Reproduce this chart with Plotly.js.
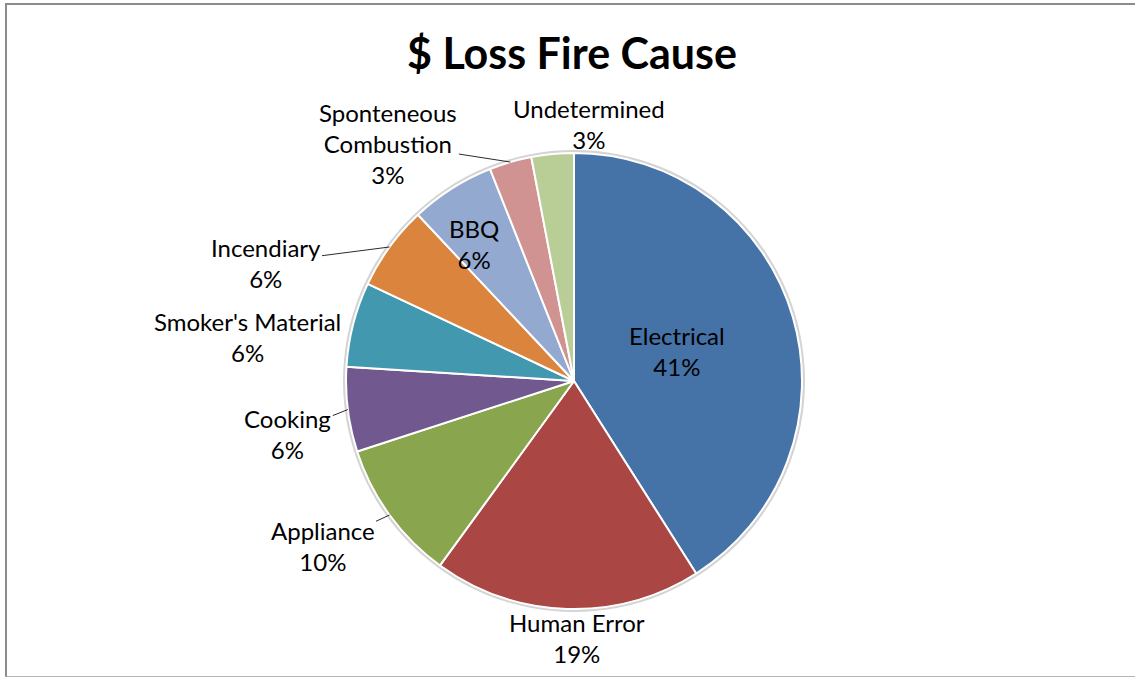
<!DOCTYPE html>
<html><head><meta charset="utf-8">
<script src="https://cdn.plot.ly/plotly-3.0.1.min.js"></script>
<style>
html,body{margin:0;padding:0;background:#fff;overflow:hidden;width:1135px;height:677px;}
#chart{position:absolute;left:0;top:0;width:1135px;height:677px;}
#frame{position:absolute;left:5px;top:3px;width:1130px;height:674px;border-left:2px solid #8c8c8c;border-top:2px solid #8c8c8c;border-bottom:1px solid #b4b4b4;box-sizing:border-box;pointer-events:none;}
</style>
</head><body>
<div id="chart"></div><div id="frame"></div>
<script>
// ---- data ----
const categories = ["Electrical","Human Error","Appliance","Cooking","Smoker's Material","Incendiary","BBQ","Sponteneous<br>Combustion","Undetermined"];
const values = [41,19,10,6,6,6,6,3,3];

// ---- styles ----
const sliceColors = ["#4572A7","#AA4643","#89A54E","#71588F","#4198AF","#DB843D","#93A9CF","#D19392","#B9CD96"];
// label placement: inside labels use a radius fraction + shift; outside labels use an offset (px) from the slice edge
const labelStyle = [
  {inside: true,  rf: 0.47, dx: 0,   dy: 0},
  {inside: false, dx: 10,   dy: 29,  line: false},
  {inside: false, dx: -67,  dy: 31,  line: true},
  {inside: false, dx: -60,  dy: 24,  line: true},
  {inside: false, dx: -106, dy: 13,  line: false},
  {inside: false, dx: -124, dy: 16,  line: true},
  {inside: true,  rf: 0.74, dx: -10, dy: 5},
  {inside: false, dx: -122, dy: -19, line: true},
  {inside: false, dx: 36,   dy: -30, line: false}
];

const W = 1135, H = 677;
const cx = 574, cy = 381, R = 228;
const FONT = "Lato, 'Open Sans', sans-serif";

const total = values.reduce((a, b) => a + b, 0);
const annotations = [];
let cum = 0;
values.forEach((v, i) => {
  const mid = (cum + v / 2) / total * 2 * Math.PI; // clockwise from 12 o'clock
  cum += v;
  const st = labelStyle[i];
  const pct = Math.round(v / total * 100) + "%";
  const text = categories[i] + "<br>" + pct;
  const r = st.inside ? st.rf * R : R;
  const px = cx + r * Math.sin(mid);
  const py = cy - r * Math.cos(mid);
  const a = {
    xref: "paper", yref: "paper",
    x: px / W, y: 1 - py / H,
    text: text,
    font: {family: FONT, size: 24, color: "#000"},
    align: "center"
  };
  if (st.inside) {
    a.showarrow = false;
    a.xshift = st.dx;
    a.yshift = -st.dy;
  } else {
    a.showarrow = true;
    a.arrowhead = 0;
    a.arrowwidth = 1;
    a.arrowcolor = st.line ? "#2b2b2b" : "rgba(0,0,0,0)";
    a.ax = st.dx;
    a.ay = st.dy;
    a.axref = "pixel"; a.ayref = "pixel";
    a.standoff = 0;
  }
  annotations.push(a);
});

const trace = {
  type: "pie",
  labels: categories,
  values: values,
  sort: false,
  direction: "clockwise",
  rotation: 0,
  marker: {colors: sliceColors, line: {color: "#ffffff", width: 2}},
  textposition: "none",
  textinfo: "none",
  hoverinfo: "label+percent",
  domain: {x: [(cx - R) / W, (cx + R) / W], y: [(H - cy - R) / H, (H - cy + R) / H]},
  showlegend: false
};

const layout = {
  width: W, height: H,
  margin: {l: 0, r: 0, t: 0, b: 0},
  paper_bgcolor: "#fff",
  title: {
    text: "$ Loss Fire Cause",
    font: {family: FONT, size: 43, color: "#000", weight: "bold"},
    xref: "container", yref: "container",
    x: 572 / W, xanchor: "center",
    y: 1 - 54 / H, yanchor: "middle"
  },
  shapes: [{
    type: "circle", xref: "paper", yref: "paper", layer: "below",
    x0: (cx - R - 3) / W, x1: (cx + R + 3) / W,
    y0: (H - cy - R - 3) / H, y1: (H - cy + R + 3) / H,
    fillcolor: "#d4d4d4", line: {width: 0}
  }],
  annotations: annotations,
  showlegend: false
};

Plotly.newPlot("chart", [trace], layout, {displayModeBar: false, staticPlot: true});
</script>
</body></html>
